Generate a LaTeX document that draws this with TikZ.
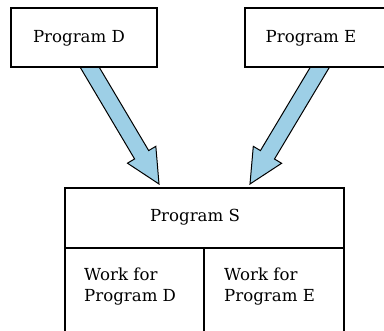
\documentclass[tikz,border=0pt]{standalone}
\usepackage{fontspec}
\setmainfont{DejaVu Serif}
\usetikzlibrary{calc}
\definecolor{arrowblue}{HTML}{9DCFE6}
\tikzset{
  box/.style={draw=black, line width=1.2pt, fill=white},
  lbl/.style={font=\fontsize{16.6}{21}\selectfont, inner sep=0pt, align=left},
  blockarrow/.style={draw=black, line width=1pt, fill=arrowblue, line join=miter},
}
\newcommand{\blockarr}[2]{%
  \path let \p1=($(#2)-(#1)$), \n1={atan2(\y1,\x1)}, \n2={veclen(\x1,\y1)} in
    [shift={(#1)}, rotate=\n1]
    [blockarrow] (0,-8.2) -- ({\n2-34},-8.2) -- ({\n2-34},-16.5) -- (\n2,0)
    -- ({\n2-34},16.5) -- ({\n2-34},8.2) -- (0,8.2) -- cycle;%
}
\begin{document}
\begin{tikzpicture}[x=1pt,y=1pt]
\useasboundingbox (0,0) rectangle (384,331);
\clip (0,0) rectangle (384,331);
% anchor coordinates
\coordinate (dS) at (83.6,331-57);
\coordinate (dT) at (159,331-184);
\coordinate (eS) at (326,331-57);
\coordinate (eT) at (250,331-184);
% arrows
\blockarr{dS}{dT}
\blockarr{eS}{eT}
% boxes
\draw[box] (11,331-8) rectangle (157,331-67);
\node[lbl, anchor=center] (pd) at (79,331-38) {Program D};
\draw[box] (245,331-8) rectangle (392,331-67);
\node[lbl, anchor=center] (pe) at (311,331-38) {Program E};
\draw[box] (65,331-188) rectangle (344,-5);
\draw[line width=1.2pt] (65,331-248) -- (344,331-248);
\draw[line width=1.2pt] (204,331-248) -- (204,-5);
\node[lbl, anchor=center] (ps) at (195,331-217) {Program S};
\node[lbl, anchor=north west] (wd) at (84,331-268) {Work for\\Program D};
\node[lbl, anchor=north west] (we) at (224,331-268) {Work for\\Program E};
\end{tikzpicture}
\end{document}
